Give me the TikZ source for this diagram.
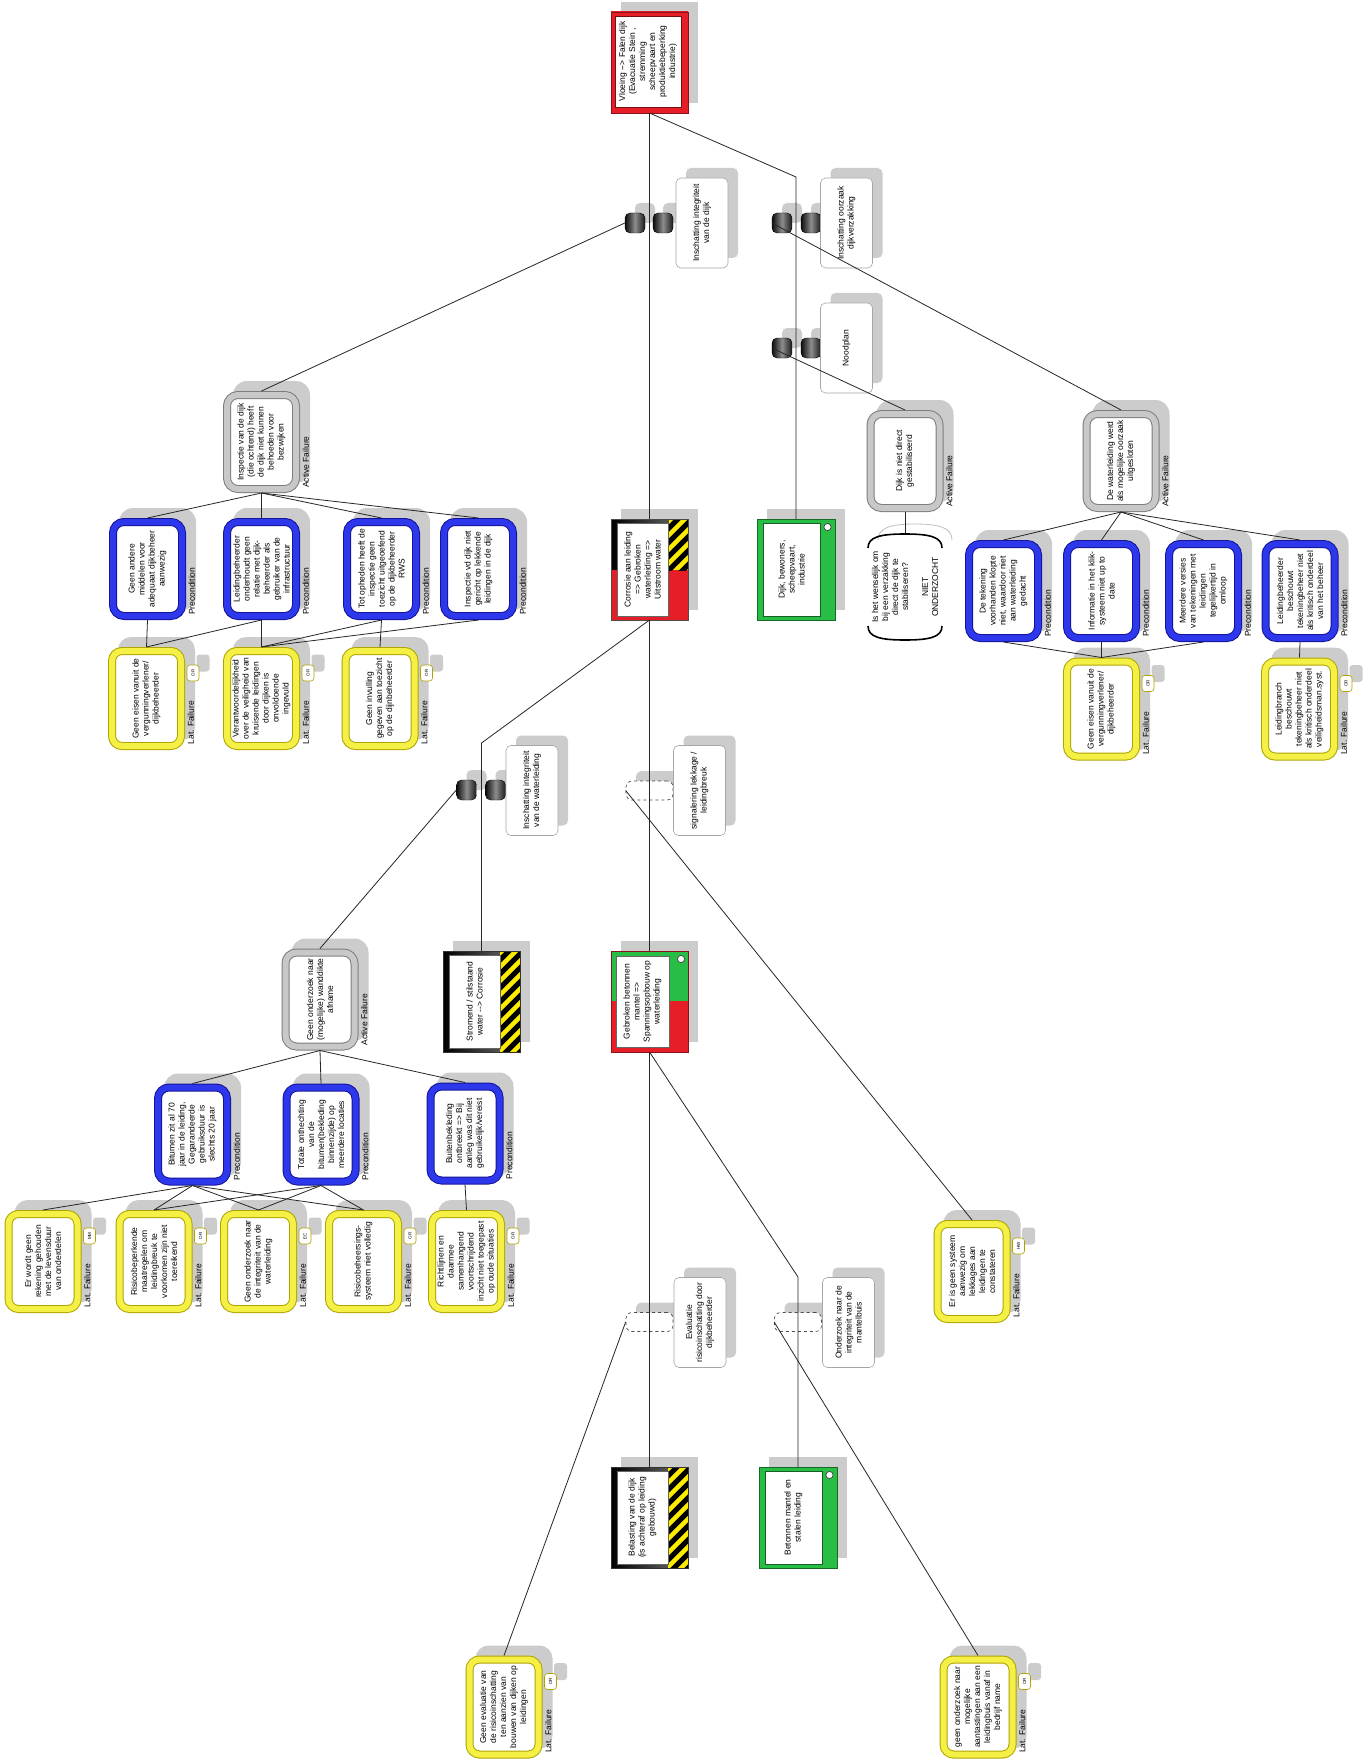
\documentclass[tikz,border=0pt]{standalone}
\usepackage{fontspec}
\setmainfont{Liberation Sans}
\usetikzlibrary{calc}

\definecolor{bluedark}{RGB}{20,20,150}
\definecolor{blueband}{RGB}{45,55,235}
\definecolor{greydark}{RGB}{125,125,125}
\definecolor{greyband}{RGB}{200,200,200}
\definecolor{yelldark}{RGB}{175,165,0}
\definecolor{yellband}{RGB}{245,240,70}
\definecolor{shadowgrey}{RGB}{204,204,204}
\definecolor{hazyellow}{RGB}{250,235,0}
\definecolor{evred}{RGB}{230,30,40}
\definecolor{evredlight}{RGB}{255,150,150}
\definecolor{evgreen}{RGB}{40,190,70}
\definecolor{evgreenlight}{RGB}{165,235,175}

\tikzset{
 conn/.style={draw=black!85, line width=0.8pt},
 txt/.style={font=\fontsize{8.5}{10}\selectfont, align=center, inner sep=0pt, text=black},
 side/.style={font=\fontsize{8.5}{10}\selectfont, inner sep=0pt, rotate=90, anchor=north west},
 pbox/.style={rectangle, rounded corners=11pt, minimum width=69pt, minimum height=94pt, inner sep=0pt, outer sep=4pt, fill=white, line width=1pt, double distance=6pt},
 precond/.style={pbox, draw=bluedark, double=blueband},
 activef/.style={pbox, draw=greydark, double=greyband},
 latf/.style={pbox, rounded corners=10pt, draw=yelldark, double=yellband, minimum height=95pt},
 tagbox/.style={rectangle, rounded corners=3pt, minimum width=12pt, minimum height=16pt, inner sep=0pt, fill=white, draw=yelldark, line width=0.6pt},
 tagtxt/.style={font=\fontsize{4.5}{5}\selectfont, inner sep=0pt, rotate=90},
 barrel/.style={rectangle, rounded corners=5pt, minimum width=20pt, minimum height=20pt, inner sep=0pt, draw=black, left color=black!95, right color=black!90, middle color=black!45},
 dbar/.style={rectangle, rounded corners=6pt, minimum width=47pt, minimum height=19pt, inner sep=0pt, draw=black!70, dashed, fill=white, line width=0.7pt},
 blabel/.style={rectangle, rounded corners=5pt, minimum width=52pt, minimum height=90pt, inner sep=0pt, draw=black!35, fill=white, line width=0.6pt},
 anchorbox/.style={rectangle, inner sep=0pt, outer sep=0pt},
}

\newcommand{\shd}[5]{\fill[shadowgrey, rounded corners=#5] ({#1-#3/2+10},{#2-#4/2-10}) rectangle ({#1+#3/2+10},{#2+#4/2-10});}
\newcommand{\PC}[4]{\shd{#2}{#3}{77}{102}{14pt}\node[precond] (#1) at (#2,#3) {};\node[txt,rotate=90] (#1t) at (#1) {#4};\node[side] (#1s) at ({#2+41},{#3+46}) {Precondition};}
\newcommand{\AF}[4]{\shd{#2}{#3}{77}{102}{14pt}\node[activef] (#1) at (#2,#3) {};\node[txt,rotate=90] (#1t) at (#1) {#4};\node[side] (#1s) at ({#2+41},{#3+46}) {Active Failure};}
\newcommand{\LF}[5]{\shd{#2}{#3}{77}{103}{13pt}\shd{#2+46.5}{#3-25.5}{13}{17}{3pt}\node[latf] (#1) at (#2,#3) {};\node[txt,rotate=90] (#1t) at (#1) {#4};\node[tagbox] (#1g) at ({#2+46.5},{#3-25.5}) {};\node[tagtxt] (#1gt) at (#1g) {#5};\node[side] (#1s) at ({#2+41},{#3+46}) {Lat. Failure};}
\newcommand{\BRL}[3]{\shd{#2}{#3}{20}{20}{5pt}\node[barrel] (#1) at (#2,#3) {};}
\newcommand{\BLB}[4]{\shd{#2}{#3}{52}{90}{5pt}\node[blabel] (#1) at (#2,#3) {};\node[txt,rotate=90] (#1t) at (#1) {#4};}
\newcommand{\DBR}[3]{\shd{#2}{#3}{47}{19}{6pt}\node[dbar] (#1) at (#2,#3) {};}
\newcommand{\hstripes}[4]{\begin{scope}\clip (#1,#2) rectangle (#3,#4);\fill[hazyellow] (#1,#2) rectangle (#3,#4);\foreach \s in {0,14,...,154} {\draw[black, line width=5pt] (#1-5,#2+\s) -- ++(40,-40);}\end{scope}}

\begin{document}
\begin{tikzpicture}[x=1pt,y=-1pt]
\useasboundingbox (0,0) rectangle (1369,1760);
\fill[white] (0,0) rectangle (1369,1760);

% ---------- Top event ----------
\fill[shadowgrey] (621,2) rectangle (698,103);
\shade[left color=evred, middle color=evredlight, right color=evred] (611,12) rectangle (688,113);
\draw[evred!60!black, line width=0.6pt] (611,12) rectangle (688,113);
\draw[fill=white, draw=evred!50!black, line width=0.5pt] (615,16) rectangle (681,107);
\node[anchorbox, minimum width=77pt, minimum height=101pt] (T) at (649.5,62.5) {};
\node[txt, rotate=90] (Tt) at (648,61.5) {Vloeing -{}-> Falen dijk\\(Evacuatie Stein ,\\stremming\\scheepvaart en\\produktiebeperking\\industrie)};

% ---------- Barriers ----------
\BRL{B1a}{635}{223} \BRL{B1b}{663}{223}
\BLB{B1l}{702}{223}{Inschatting integriteit\\van de dijk}
\BRL{B2a}{782}{223} \BRL{B2b}{811}{223}
\BLB{B2l}{846.5}{223}{Inschatting oorzaak\\dijkverzakking}
\BRL{B3a}{782}{348} \BRL{B3b}{811}{348}
\BLB{B3l}{846.5}{348}{Noodplan}
\BRL{B4a}{466.5}{790} \BRL{B4b}{495.5}{790}
\BLB{B4l}{532}{790.5}{Inschatting integriteit\\van de waterleiding}
\DBR{B5}{649.5}{790.5}
\BLB{B5l}{699.5}{790.5}{signalering lekkage /\\leidingbreuk}
\DBR{B6}{649.5}{1322}
\BLB{B6l}{700}{1322.5}{Evaluatie\\risicoinschatting door\\dijkbeheerder}
\DBR{B7}{798}{1322}
\BLB{B7l}{848.5}{1322.5}{Onderzoek naar de\\integriteit van de\\mantelbuis}

% ---------- Active failures ----------
\AF{A1}{261.5}{442}{Inspectie van de dijk\\(die ochtend) heeft\\de dijk niet kunnen\\behoeden voor\\bezwijken}
\AF{A2}{905}{461}{Dijk is niet direct\\gestabiliseerd}
\AF{A3}{1121}{461}{De waterleiding werd\\als mogelijke oorzaak\\uitgesloten}
\AF{A4}{320}{999.5}{Geen onderzoek naar\\(mogelijke) wanddikte\\afname}

% ---------- Preconditions ----------
\PC{P1}{147.5}{569}{Geen andere\\middelen voor\\adequaat dijkbeheer\\aanwezig}
\PC{P2}{261.5}{569}{Leidingbeheerder\\onderhoudt geen\\relatie met dijk-\\beheerder als\\gebruiker van de\\infrastructuur}
\PC{P3}{381.5}{569}{Tot opheden heeft de\\inspectie geen\\toezicht uitgeoefend\\op de dijkbeheerder\\RWS}
\PC{P4}{478.5}{569}{Inspectie vd dijk niet\\gericht op lekkende\\leidingen in de dijk}
\PC{P5}{1003.5}{591}{De tekening\\voorhanden klopte\\niet, waardoor niet\\aan waterleiding\\gedacht}
\PC{P6}{1101.5}{591}{Informatie in het klik-\\systeem niet up to\\date}
\PC{P7}{1203.5}{591}{Meerdere versies\\van tekeningen met\\leidingen\\tegelijkertijd in\\omloop}
\PC{P8}{1300}{591}{Leidingbeheerder\\beschouwt\\tekeningbeheer niet\\als kritisch onderdeel\\van het beheer}
\PC{P9}{192.5}{1134.5}{Bitumen zit al 70\\jaar in de leiding,\\Gegarandeerde\\gebruiksduur is\\slechts 20 jaar}
\PC{P10}{321}{1134.5}{Totale onthechting\\van de\\bitumen(bekleding\\binnenzijde) op\\meerdere locaties}
\PC{P11}{465}{1133.5}{Buitenbekleding\\ontbreekt => Bij\\aanleg was dit niet\\gebruikelijk/vereist}

% ---------- Latent failures ----------
\LF{L1}{146.5}{698.5}{Geen eisen vanuit de\\vergunningverlener/\\dijkbeheerder}{OR}
\LF{L2}{261.5}{698.5}{Verantwoordelijkheid\\over de veiligheid van\\kruisende leidingen\\door dijken is\\onvoldoende\\ingevuld}{OR}
\LF{L3}{380}{698.5}{Geen invulling\\gegeven aan toezicht\\op de dijnbeheerder}{OR}
\LF{L4}{1101.5}{709}{Geen eisen vanuit de\\vergunningverlener/\\dijkbeheerder}{OR}
\LF{L5}{1299.5}{709}{Leidingbranch\\beschouwt\\tekeningbeheer niet\\als kritisch onderdeel\\veiligheidsman.syst.}{OR}
\LF{L6}{43}{1261.5}{Er wordt geen\\rekening gehouden\\met de levensduur\\van onderdelen}{MM}
\LF{L7}{154}{1261.5}{Risicobeperkende\\maatregelen om\\leidingbreuk te\\voorkomen zijn niet\\toereikend}{OR}
\LF{L8}{258.5}{1261.5}{Geen onderzoek naar\\de integriteit van de\\waterleiding}{EC}
\LF{L9}{363.5}{1261.5}{Risicobeheersings-\\systeem niet volledig}{OR}
\LF{L10}{466.5}{1261.5}{Richtlijnen en\\daarmee\\samenhangend\\voortschrijdend\\inzicht niet toegepast\\op oude situaties}{OR}
\LF{L11}{972}{1271.5}{Er is geen systeem\\aanwezig om\\lekkages aan\\leidingen te\\constateren}{HW}
\LF{L12}{504}{1707}{Geen evaluatie van\\de risicoinschatting\\ten aanzien van\\bouwen van dijken op\\leidingen}{OR}
\LF{L13}{978}{1707}{geen onderzoek naar\\mogelijke\\aantastingen aan een\\leidingbuis vanaf in\\bedrijf name}{OR}

% ---------- Event: Corrosie ----------
\fill[shadowgrey] (621,509) rectangle (698,610);
\shade[left color=black, middle color=white, right color=black!55] (611,519) rectangle (688,570);
\shade[left color=evred, middle color=evredlight, right color=evred] (611,570) rectangle (688,620);
\hstripes{669}{519}{688}{570}
\draw[black!70, line width=0.5pt] (611,519) rectangle (688,620);
\draw[fill=white, draw=black!60, line width=0.5pt] (617,523) rectangle (668,616);
\node[anchorbox, minimum width=77pt, minimum height=101pt] (E1) at (649.5,569.5) {};
\node[txt, rotate=90] (E1t) at (642.5,569.5) {Corrosie aan leiding\\=> Gebroken\\waterleiding =>\\Uitstroom water};

% ---------- Consequence: Dijk, bewoners ----------
\fill[shadowgrey] (767,509) rectangle (845,610);
\shade[left color=evgreen, middle color=evgreenlight, right color=evgreen] (757,519) rectangle (835,620);
\draw[evgreen!55!black, line width=0.5pt] (757,519) rectangle (835,620);
\draw[fill=white, draw=evgreen!50!black, line width=0.5pt] (763,523) rectangle (820,616);
\draw[fill=white, draw=black!75, line width=0.7pt] (827.5,527) circle[radius=3.6pt];
\node[anchorbox, minimum width=78pt, minimum height=101pt] (C1) at (796,569.5) {};
\node[txt, rotate=90] (C1t) at (791.5,569.5) {Dijk, bewoners,\\scheepvaart,\\industrie};

% ---------- Hazard: Stromend ----------
\fill[shadowgrey] (453,941) rectangle (530,1042);
\shade[left color=black, middle color=white, right color=black!55] (443,951) rectangle (520,1052);
\hstripes{500}{951}{520}{1052}
\draw[black!80, line width=0.5pt] (443,951) rectangle (520,1052);
\draw[fill=white, draw=black!60, line width=0.5pt] (449,955) rectangle (500,1048);
\node[anchorbox, minimum width=77pt, minimum height=101pt] (H1) at (481.5,1001.5) {};
\node[txt, rotate=90] (H1t) at (474.5,1001.5) {Stromend / stilstaand\\water -{}-> Corrosie};

% ---------- Event: Gebroken ----------
\fill[shadowgrey] (621,941) rectangle (698,1042);
\shade[left color=evgreen, middle color=evgreenlight, right color=evgreen] (611,951) rectangle (688,1001.5);
\shade[left color=evred, middle color=evredlight, right color=evred] (611,1001.5) rectangle (688,1052);
\draw[evred!60!black, line width=0.5pt] (611,951) rectangle (688,1052);
\draw[fill=white, draw=black!60, line width=0.5pt] (616,956) rectangle (669,1047);
\draw[fill=white, draw=black!75, line width=0.7pt] (681,959) circle[radius=3.6pt];
\node[anchorbox, minimum width=77pt, minimum height=101pt] (E2) at (649.5,1001.5) {};
\node[txt, rotate=90] (E2t) at (642.5,1001.5) {Gebroken betonnen\\mantel =>\\Spanningsopbouw op\\waterleiding};

% ---------- Hazard: Belasting ----------
\fill[shadowgrey] (621,1457) rectangle (698,1558);
\shade[left color=black, middle color=white, right color=black!55] (611,1467) rectangle (688,1568);
\hstripes{668}{1467}{688}{1568}
\draw[black!80, line width=0.5pt] (611,1467) rectangle (688,1568);
\draw[fill=white, draw=black!60, line width=0.5pt] (617,1471) rectangle (668,1564);
\node[anchorbox, minimum width=77pt, minimum height=101pt] (H2) at (649.5,1517.5) {};
\node[txt, rotate=90] (H2t) at (642.5,1517.5) {Belasting van de dijk\\(is achteraf op leiding\\gebouwd)};

% ---------- Consequence: Betonnen mantel ----------
\fill[shadowgrey] (769,1457) rectangle (847,1558);
\shade[left color=evgreen, middle color=evgreenlight, right color=evgreen] (759,1467) rectangle (837,1568);
\draw[evgreen!55!black, line width=0.5pt] (759,1467) rectangle (837,1568);
\draw[fill=white, draw=evgreen!50!black, line width=0.5pt] (765,1471) rectangle (822,1564);
\draw[fill=white, draw=black!75, line width=0.7pt] (829.5,1475) circle[radius=3.6pt];
\node[anchorbox, minimum width=78pt, minimum height=101pt] (C2) at (798,1517.5) {};
\node[txt, rotate=90] (C2t) at (793.5,1517.5) {Betonnen mantel en\\stalen leiding};

% ---------- Open question node ----------
\draw[black!25, line width=0.8pt] (878,540) .. controls (878,528) and (890,524) .. (915,524) .. controls (940,524) and (952,528) .. (952,540);
\draw[black, line width=1.6pt] (868,548) .. controls (868,537) and (880,534) .. (905,534) .. controls (930,534) and (942,537) .. (942,548);
\draw[black, line width=1.6pt] (868,626) .. controls (868,637) and (880,640) .. (905,640) .. controls (930,640) and (942,637) .. (942,626);
\node[anchorbox, minimum width=76pt, minimum height=107pt] (Q) at (905,586.5) {};
\node[txt, rotate=90] (Qt) at (905,587) {Is het wenselijk om\\bij een verzakking\\direct de dijk te\\stabiliseren?\\[10pt]NIET\\ONDERZOCHT};

% ---------- Connectors ----------
\coordinate (k1) at (796,177);
\coordinate (k2) at (481.5,743);
\coordinate (k3) at (798,1277);

\draw[conn] (T.south) -- (E1.north);
\draw[conn] (T.south) -- (k1) -- (C1.north);
\draw[conn] (B1a.west) -- (A1.north);
\draw[conn] (B2a.west) -- (A3.north);
\draw[conn] (B3a.west) -- (A2.north);
\draw[conn] (A2.south) -- (Q.north);

\draw[conn] (A1.south) -- (P1.north);
\draw[conn] (A1.south) -- (P2.north);
\draw[conn] (A1.south) -- (P3.north);
\draw[conn] (A1.south) -- (P4.north);
\draw[conn] (P1.south) -- (L1.north);
\draw[conn] (P2.south) -- (L1.north);
\draw[conn] (P2.south) -- (L2.north);
\draw[conn] (P3.south) -- (L2.north);
\draw[conn] (P3.south) -- (L3.north);
\draw[conn] (P4.south) -- (L2.north);

\draw[conn] (A3.south) -- (P5.north);
\draw[conn] (A3.south) -- (P6.north);
\draw[conn] (A3.south) -- (P7.north);
\draw[conn] (A3.south) -- (P8.north);
\draw[conn] (P5.south) -- (L4.north);
\draw[conn] (P6.south) -- (L4.north);
\draw[conn] (P7.south) -- (L4.north);
\draw[conn] (P8.south) -- (L5.north);

\draw[conn] (E1.south) -- (k2) -- (H1.north);
\draw[conn] (B4a.west) -- (A4.north);
\draw[conn] (A4.south) -- (P9.north);
\draw[conn] (A4.south) -- (P10.north);
\draw[conn] (A4.south) -- (P11.north);
\draw[conn] (P9.south) -- (L6.north);
\draw[conn] (P9.south) -- (L7.north);
\draw[conn] (P9.south) -- (L8.north);
\draw[conn] (P9.south) -- (L9.north);
\draw[conn] (P10.south) -- (L7.north);
\draw[conn] (P10.south) -- (L8.north);
\draw[conn] (P10.south) -- (L9.north);
\draw[conn] (P11.south) -- (L10.north);

\draw[conn] (E1.south) -- (E2.north);
\draw[conn] (B5.west) -- (L11.north);
\draw[conn] (E2.south) -- (k3) -- (C2.north);
\draw[conn] (E2.south) -- (H2.north);
\draw[conn] (B6.west) -- (L12.north);
\draw[conn] (B7.west) -- (L13.north);
\end{tikzpicture}
\end{document}
